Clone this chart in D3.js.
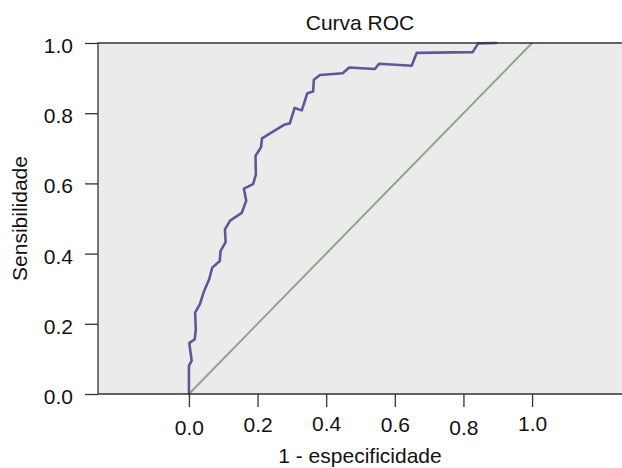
<!DOCTYPE html>
<html>
<head>
<meta charset="utf-8">
<script src="https://cdn.jsdelivr.net/npm/d3@7"></script>
<style>
  body { margin: 0; background: #fff; }
  text { font-family: "Liberation Sans", Arial, sans-serif; fill: #111; }
</style>
</head>
<body>
<div id="chart"></div>
<script>
// ROC curve points
var fpr = [0, 0, 0.008, 0.001, 0.017, 0.020, 0.018, 0.032, 0.044, 0.059, 0.068, 0.090, 0.092,
  0.107, 0.105, 0.120, 0.154, 0.167, 0.160, 0.187, 0.195, 0.194, 0.210, 0.213, 0.277, 0.294,
  0.308, 0.329, 0.345, 0.362, 0.364, 0.382, 0.448, 0.467, 0.542, 0.554, 0.649, 0.664, 0.827,
  0.843, 0.895];
var tpr = [0, 0.080, 0.095, 0.145, 0.156, 0.185, 0.232, 0.256, 0.293, 0.327, 0.360, 0.379, 0.407,
  0.433, 0.469, 0.494, 0.516, 0.551, 0.585, 0.598, 0.625, 0.678, 0.703, 0.728, 0.767, 0.771,
  0.815, 0.808, 0.857, 0.862, 0.895, 0.909, 0.914, 0.930, 0.926, 0.941, 0.935, 0.972, 0.974,
  0.999, 1.0];
var xTicks = [0, 0.2, 0.4, 0.6, 0.8, 1.0];
var yTicks = [0, 0.2, 0.4, 0.6, 0.8, 1.0];

var width = 622, height = 468;
var margin = { top: 43, right: 623, bottom: 394, left: 98 }; // plot edges in px
var fontSize = 21;
// the x tick labels sit a little unevenly in the original
var xLabelShift = [3, 0, -1, 0, 3, -1];

var svg = d3.select('#chart').append('svg').attr('width', width).attr('height', height);

var x = d3.scaleLinear().domain([-0.265, 1.265]).range([margin.left, margin.right]);
var y = d3.scaleLinear().domain([0, 1]).range([margin.bottom, margin.top]);

// plot background
svg.append('rect').attr('x', margin.left).attr('y', margin.top)
  .attr('width', margin.right - margin.left).attr('height', margin.bottom - margin.top)
  .attr('fill', '#ebebeb');

// reference diagonal
svg.append('line')
  .attr('x1', x(0)).attr('y1', y(0)).attr('x2', x(1)).attr('y2', y(1))
  .attr('stroke', '#8aa983').attr('stroke-width', 2);

// roc line
var pts = fpr.map(function (d, i) { return [d, tpr[i]]; });
svg.append('path').datum(pts)
  .attr('d', d3.line().x(function (d) { return x(d[0]); }).y(function (d) { return y(d[1]); }))
  .attr('fill', 'none').attr('stroke', '#5a5a98').attr('stroke-width', 2.6)
  .attr('stroke-linejoin', 'round').attr('stroke-linecap', 'round');

// frame: top, left, bottom
svg.append('path')
  .attr('d', 'M' + margin.right + ',' + margin.top + 'H' + margin.left + 'V' + margin.bottom + 'H' + margin.right)
  .attr('fill', 'none').attr('stroke', '#333').attr('stroke-width', 1.3);

// y axis
var yAxis = svg.append('g').attr('transform', 'translate(' + margin.left + ',0)')
  .call(d3.axisLeft(y).tickValues(yTicks).tickFormat(d3.format('.1f')).tickSize(13).tickPadding(12));
yAxis.select('.domain').remove();
yAxis.selectAll('line').attr('stroke', '#333').attr('stroke-width', 1.3);
yAxis.selectAll('text').attr('font-size', fontSize).attr('dy', '0.45em')
  .attr('font-family', '"Liberation Sans", Arial, sans-serif').attr('fill', '#111');

// x axis
var xAxis = svg.append('g').attr('transform', 'translate(0,' + margin.bottom + ')')
  .call(d3.axisBottom(x).tickValues(xTicks).tickFormat(d3.format('.1f')).tickSize(13).tickPadding(10));
xAxis.select('.domain').remove();
xAxis.selectAll('line').attr('stroke', '#333').attr('stroke-width', 1.3);
xAxis.selectAll('text').attr('font-size', fontSize)
  .attr('y', function (d, i) { return 23 + xLabelShift[i]; })
  .attr('font-family', '"Liberation Sans", Arial, sans-serif').attr('fill', '#111');

// titles
svg.append('text').attr('x', 360).attr('y', 30)
  .attr('text-anchor', 'middle').attr('font-size', fontSize).text('Curva ROC');
svg.append('text').attr('x', 360).attr('y', 463)
  .attr('text-anchor', 'middle').attr('font-size', fontSize).text('1 - especificidade');
svg.append('text').attr('transform', 'translate(27,' + ((margin.top + margin.bottom) / 2) + ') rotate(-90)')
  .attr('text-anchor', 'middle').attr('font-size', fontSize).text('Sensibilidade');
</script>
</body>
</html>
